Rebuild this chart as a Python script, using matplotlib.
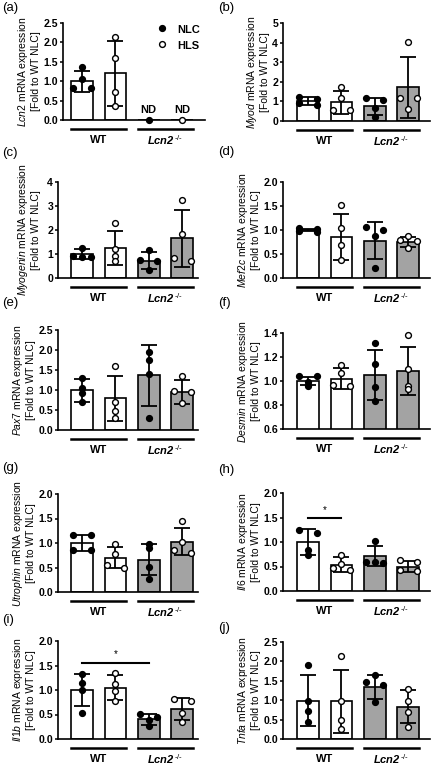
import numpy as np
import matplotlib.pyplot as plt
from matplotlib.lines import Line2D

plt.rcParams['font.family'] = ['Liberation Sans', 'DejaVu Sans']
plt.rcParams['mathtext.fontset'] = 'custom'
plt.rcParams['mathtext.rm'] = 'Liberation Sans'
plt.rcParams['mathtext.it'] = 'Liberation Sans:italic'
plt.rcParams['mathtext.bf'] = 'Liberation Sans:bold'
plt.rcParams['mathtext.bfit'] = 'Liberation Sans:italic:bold'

# grupos: WT NLC, WT HLS, Lcn2-/- NLC, Lcn2-/- HLS
groups = ['WT', 'Lcn2']
conds = ['NLC', 'HLS']

# (a) Lcn2
lcn2_mean = [1.0, 1.2, 0.0, 0.0]
lcn2_sd = [0.27, 0.83, 0.0, 0.0]
lcn2_pts = [[1.36, 1.05, 0.82, 0.82], [2.14, 1.61, 0.71, 0.35], [0.0], [0.0]]

# (b) Myod
myod_mean = [1.02, 0.95, 0.74, 1.72]
myod_sd = [0.21, 0.58, 0.45, 1.55]
myod_pts = [[1.24, 1.12, 0.92, 0.8], [1.75, 1.15, 0.56, 0.56], [1.19, 1.07, 0.64, 0.22], [4.03, 1.15, 1.15, 0.59]]

# (c) Myogenin
myog_mean = [1.0, 1.24, 0.72, 1.65]
myog_sd = [0.19, 0.71, 0.35, 1.18]
myog_pts = [[1.27, 0.9, 0.88, 0.86], [2.28, 1.22, 0.93, 0.72], [1.17, 0.75, 0.72, 0.33], [3.25, 1.83, 0.82, 0.72]]

# (d) Mef2c
mef2c_mean = [1.0, 0.85, 0.78, 0.755]
mef2c_sd = [0.03, 0.48, 0.39, 0.1]
mef2c_pts = [[1.05, 1.03, 0.97, 0.96], [1.52, 1.05, 0.68, 0.37], [1.06, 1.0, 0.87, 0.2], [0.88, 0.8, 0.77, 0.62]]

# (e) Pax7
pax7_mean = [0.99, 0.79, 1.37, 0.96]
pax7_sd = [0.28, 0.57, 0.76, 0.3]
pax7_pts = [[1.31, 1.04, 0.92, 0.71], [1.61, 0.69, 0.48, 0.29], [1.96, 1.75, 1.4, 0.31], [1.35, 0.97, 0.95, 0.67]]

# (f) Desmin
desmin_mean = [1.0, 1.02, 1.05, 1.08]
desmin_sd = [0.035, 0.09, 0.21, 0.2]
desmin_pts = [[1.04, 1.04, 0.99, 0.96], [1.13, 1.07, 0.97, 0.96], [1.32, 1.14, 0.95, 0.83], [1.38, 1.1, 0.96, 0.93]]

# (g) Utrophin
utr_mean = [1.0, 0.7, 0.66, 1.03]
utr_sd = [0.17, 0.22, 0.31, 0.28]
utr_pts = [[1.16, 1.16, 0.86, 0.86], [0.97, 0.78, 0.55, 0.5], [0.97, 0.89, 0.51, 0.27], [1.44, 1.03, 0.86, 0.8]]

# (h) Il6
il6_mean = [1.0, 0.54, 0.72, 0.5]
il6_sd = [0.26, 0.15, 0.2, 0.12]
il6_pts = [[1.25, 1.18, 0.84, 0.74], [0.74, 0.55, 0.47, 0.42], [1.03, 0.6, 0.6, 0.57], [0.64, 0.6, 0.43, 0.4]]

# (i) Il1b
il1b_mean = [1.0, 1.05, 0.4, 0.61]
il1b_sd = [0.33, 0.26, 0.11, 0.22]
il1b_pts = [[1.33, 1.15, 1.0, 0.54], [1.35, 1.12, 0.98, 0.78], [0.52, 0.45, 0.38, 0.27], [0.81, 0.78, 0.54, 0.35]]

# (j) Tnfa
tnfa_mean = [0.99, 0.97, 1.35, 0.83]
tnfa_sd = [0.66, 0.82, 0.31, 0.43]
tnfa_pts = [[1.92, 0.99, 0.71, 0.45], [2.13, 0.99, 0.49, 0.26], [1.66, 1.47, 1.4, 0.95], [1.29, 0.97, 0.7, 0.32]]

genes = ['Lcn2', 'Myod', 'Myogenin', 'Mef2c', 'Pax7', 'Desmin', 'Utrophin', 'Il6', 'Il1b', 'Tnfa']
letters = ['(a)', '(b)', '(c)', '(d)', '(e)', '(f)', '(g)', '(h)', '(i)', '(j)']
ylims = [(0, 2.5), (0, 5), (0, 4), (0, 2), (0, 2.5), (0.6, 1.4), (0, 2), (0, 2), (0, 2), (0, 2.5)]
ysteps = [0.5, 1, 1, 0.5, 0.5, 0.2, 0.5, 0.5, 0.5, 0.5]
nd = [True, False, False, False, False, False, False, False, False, False]
# comparaciones significativas: (grupo1, grupo2, altura)
sig = {7: (0, 1, 1.49), 8: (0, 2, 1.56)}

all_means = [lcn2_mean, myod_mean, myog_mean, mef2c_mean, pax7_mean, desmin_mean, utr_mean, il6_mean, il1b_mean, tnfa_mean]
all_sds = [lcn2_sd, myod_sd, myog_sd, mef2c_sd, pax7_sd, desmin_sd, utr_sd, il6_sd, il1b_sd, tnfa_sd]
all_pts = [lcn2_pts, myod_pts, myog_pts, mef2c_pts, pax7_pts, desmin_pts, utr_pts, il6_pts, il1b_pts, tnfa_pts]

# cajas de los ejes en pixeles (izq, der, arriba, abajo)
W, H = 433, 765
boxes = [(63, 205, 23, 120), (283, 430, 23, 121),
         (58, 198, 182, 278), (283, 430, 182, 278),
         (58, 198, 330, 430), (283, 430, 333, 429),
         (58, 198, 494, 592), (283, 430, 493, 591),
         (58, 198, 641, 739), (283, 430, 642, 739)]
# borde derecho de la etiqueta del eje y (px)
ylab_x = [41, 270, 41, 261, 36, 261, 36, 261, 36, 261]
letter_pos = [(2, 8), (218, 8), (2, 153), (218, 152), (2, 303), (218, 303),
              (2, 468), (218, 470), (2, 620), (218, 628)]

SP = 33.4  # pixeles entre barras
BW = 0.65
GRAY = '#a3a3a3'


def swarm(vals, px_per_unit, thr=3.5, step=0.26):
    # agrupa puntos cercanos en filas y los reparte a los lados
    order = sorted(range(len(vals)), key=lambda k: -vals[k])
    rows = []
    for k in order:
        if rows and abs(vals[rows[-1][0]] - vals[k]) * px_per_unit < thr:
            rows[-1].append(k)
        else:
            rows.append([k])
    offs = np.zeros(len(vals))
    for r in rows:
        n = len(r)
        if n == 2:
            o = [-step, step]
        else:
            o = [(i - (n - 1) / 2) * step for i in range(n)]
        for k, v in zip(r, o):
            offs[k] = v
    return offs


fig = plt.figure(figsize=(W / 100, H / 100), dpi=100)

for p in range(10):
    L, R, T, B = boxes[p]
    ax = fig.add_axes([L / W, 1 - B / H, (R - L) / W, (B - T) / H])
    c0 = 82 if L < 200 else 308
    ax.set_xlim((L - c0) / SP, (R - c0) / SP)
    y0, y1 = ylims[p]
    ax.set_ylim(y0, y1)
    pxu = (B - T) / (y1 - y0)
    means, sds, pts = all_means[p], all_sds[p], all_pts[p]

    for i in range(4):
        fc = 'white' if i < 2 else GRAY
        ax.bar(i, means[i], width=BW, color=fc, edgecolor='black', linewidth=1.2, zorder=2)
        if sds[i] > 0:
            ax.errorbar(i, means[i], yerr=sds[i], fmt='none', ecolor='black',
                        elinewidth=1.3, capsize=5.5, capthick=1.3, zorder=3)
        offs = swarm(pts[i], pxu)
        mfc = 'black' if i % 2 == 0 else 'white'
        ax.plot(np.array([i] * len(pts[i])) + offs, pts[i], 'o', ms=4.2, mfc=mfc,
                mec='black', mew=1.0, zorder=4, clip_on=False)
        if nd[p] and means[i] == 0:
            ax.text(i, y0 + 10 / pxu, 'ND', ha='center', va='center', fontsize=8,
                    fontweight='bold')

    if p in sig:
        g1, g2, h = sig[p]
        ax.plot([g1, g2], [h, h], color='black', lw=1.5, zorder=3)
        ax.text((g1 + g2) / 2, h + 3 / pxu, '*', ha='center', va='bottom', fontsize=7)

    for s in ['top', 'right']:
        ax.spines[s].set_visible(False)
    for s in ['left', 'bottom']:
        ax.spines[s].set_linewidth(1.2)
    ax.set_xticks([])
    ticks = np.arange(y0, y1 + 1e-9, ysteps[p])
    ax.set_yticks(ticks)
    if ysteps[p] >= 1:
        ax.set_yticklabels(['%d' % t for t in ticks])
    else:
        ax.set_yticklabels(['%.1f' % t for t in ticks])
    ax.tick_params(axis='y', length=2.5, width=1.1, pad=1.0, labelsize=7.6)
    for t in ax.get_yticklabels():
        t.set_fontweight('bold')

    ax.set_ylabel('$\\mathit{%s}$ mRNA expression\n[Fold to WT NLC]' % genes[p],
                  fontsize=7.5, linespacing=1.15)
    ax.yaxis.set_label_coords((ylab_x[p] - L) / (R - L), 0.5)

    # lineas de grupo y etiquetas
    hpx = B - T
    for g in range(2):
        xa, xb = 2 * g - BW / 2, 2 * g + 1 + BW / 2
        ax.plot([xa, xb], [-9 / hpx, -9 / hpx], color='black', lw=1.8,
                transform=ax.get_xaxis_transform(), clip_on=False)
        lab = 'WT' if g == 0 else '$\\mathbfit{Lcn2}^{\\,\\text{-/-}}$'
        ax.text(2 * g + 0.5, -20 / hpx, lab, ha='center', va='center', fontsize=8,
                fontweight='bold', transform=ax.get_xaxis_transform())

    if p == 0:
        hd = [Line2D([], [], ls='none', marker='o', ms=4.2, mfc='black', mec='black'),
              Line2D([], [], ls='none', marker='o', ms=4.2, mfc='white', mec='black', mew=1.0)]
        leg = ax.legend(hd, conds, loc='upper left', bbox_to_anchor=(0.58, 1.1),
                        frameon=False, handlelength=1.0, handletextpad=0.6,
                        labelspacing=0.3, borderpad=0.2)
        for t in leg.get_texts():
            t.set_fontsize(8)
            t.set_fontweight('bold')

    lx, ly = letter_pos[p]
    fig.text(lx / W, 1 - ly / H, letters[p], ha='left', va='center', fontsize=9.5)

plt.savefig('out.png', dpi=100)
